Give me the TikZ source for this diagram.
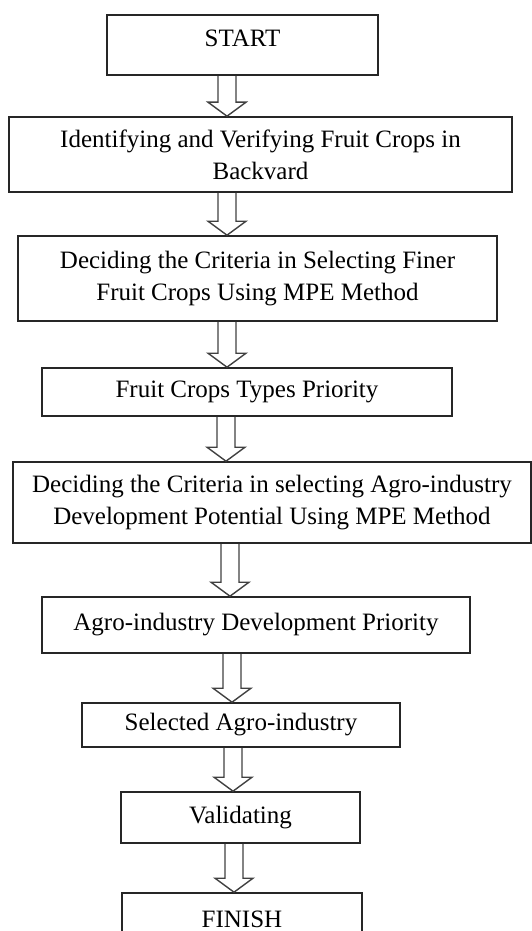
\documentclass[tikz,border=0pt]{standalone}
\usepackage{fontspec}
\setmainfont{Liberation Serif}
\usepackage{tikz}
\usetikzlibrary{calc}

\tikzset{
    stepbox/.style={
        draw=black!85,
        line width=1.6pt,
        rectangle,
        inner sep=0pt,
        align=center,
        font=\fontsize{25}{32}\selectfont
    },
    hollowarrow/.style={
        draw=black!75,
        line width=1.4pt,
        line join=miter
    }
}

% open block arrow: from node, to node, x of its axis
\newcommand{\flowarrow}[3]{%
    \draw[hollowarrow] let \p1=(#1.south), \p2=(#2.north) in
        (#3-9,\y1) -- (#3-9,\y2+14) -- (#3-19,\y2+14) -- (#3,\y2)
        -- (#3+19,\y2+14) -- (#3+9,\y2+14) -- (#3+9,\y1);
}

\begin{document}
\begin{tikzpicture}[x=1pt,y=1pt]
    \clip (0,0) rectangle (532,-931);

    \node[stepbox, minimum width=271pt, minimum height=60pt, text depth=14pt] (start) at (242.5,-45) {START};
    \node[stepbox, minimum width=503pt, minimum height=75pt] (ident) at (260.5,-154.5)
        {Identifying and Verifying Fruit Crops in\\ Backvard};
    \node[stepbox, minimum width=479pt, minimum height=85pt] (critfruit) at (257.5,-278.5)
        {Deciding the Criteria in Selecting Finer\\ Fruit Crops Using MPE Method};
    \node[stepbox, minimum width=410pt, minimum height=48pt] (fruitprio) at (247,-392)
        {Fruit Crops Types Priority};
    \node[stepbox, minimum width=518pt, minimum height=81pt] (critagro) at (272,-502.5)
        {Deciding the Criteria in selecting Agro-industry\\ Development Potential Using MPE Method};
    \node[stepbox, minimum width=428pt, minimum height=56pt] (agroprio) at (256,-625)
        {Agro-industry Development Priority};
    \node[stepbox, minimum width=318pt, minimum height=44pt] (selected) at (241,-725)
        {Selected Agro-industry};
    \node[stepbox, minimum width=239pt, minimum height=51pt] (validate) at (240.5,-817.5)
        {Validating};
    \node[stepbox, minimum width=240pt, minimum height=52pt] (finish) at (242,-919)
        {FINISH};

    \flowarrow{start}{ident}{227}
    \flowarrow{ident}{critfruit}{227}
    \flowarrow{critfruit}{fruitprio}{227}
    \flowarrow{fruitprio}{critagro}{226}
    \flowarrow{critagro}{agroprio}{230}
    \flowarrow{agroprio}{selected}{232}
    \flowarrow{selected}{validate}{233}
    \flowarrow{validate}{finish}{234}
\end{tikzpicture}
\end{document}
